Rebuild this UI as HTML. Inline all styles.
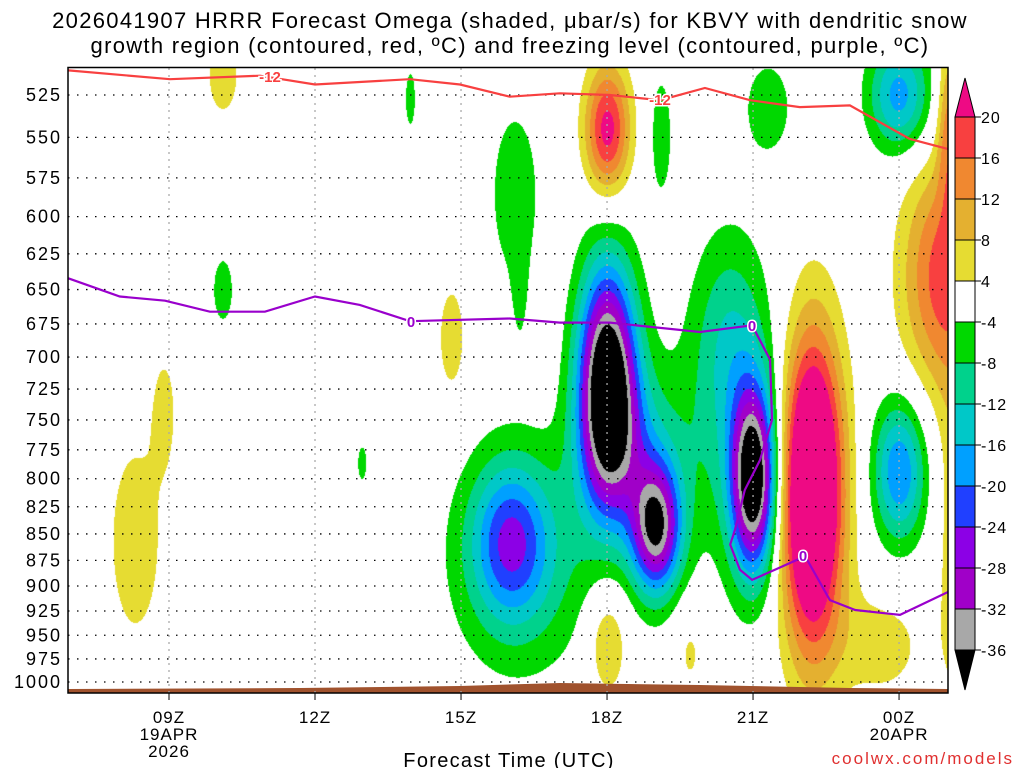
<!DOCTYPE html>
<html><head><meta charset="utf-8">
<style>
body{margin:0;background:#fff;width:1024px;height:768px;overflow:hidden;position:relative;font-family:"Liberation Sans",sans-serif}
#cv{position:absolute;left:68px;top:68px}
#ov{position:absolute;left:0;top:0}
</style></head>
<body>
<canvas id="cv" width="880" height="625"></canvas>
<svg id="ov" width="1024" height="768"></svg>
<script>
// ---- data ----
const pressureTicks=[525,550,575,600,625,650,675,700,725,750,775,800,825,850,875,900,925,950,975,1000];
const timeTickHours=[9,12,15,18,21,24];
const timeTickLabels=["09Z","12Z","15Z","18Z","21Z","00Z"];
const colorbarLevels=[20,16,12,8,4,-4,-8,-12,-16,-20,-24,-28,-32,-36];
const blobT=[18,19,18.5,16,16.3,21,20.6,20.5,16.1,19.1,21.3,24,24,10.1,13.95,12.96,16.2, 22.2,18,24.9,25,25.1,8.3,8.9,10.1,14.8,18,19.7,23.6];
const blobP=[720,845,776,856,875,801,750,680,585,548,532,525,793,650,527,786,650, 810,545,640,540,850,856,740,514,686,955,966,960];
const blobPeak=[-45,-34,-12,-18,-9,-40,-8,-7,-6.5,-6,-7,-18,-20,-6,-6,-5,-4, 40,22,18,12,6,6,5,6,6,9,5,6];
const blobSigT=[0.42,0.36,0.7,0.55,1.1,0.32,0.8,0.5,0.42,0.2,0.37,0.45,0.38,0.2,0.1,0.12,0.12, 0.45,0.33,0.6,0.16,0.25,0.5,0.2,0.3,0.25,0.3,0.25,0.7];
const blobSigLnP=[0.09,0.05,0.066,0.06,0.09,0.07,0.12,0.08,0.08,0.06,0.04,0.044,0.055,0.035,0.03,0.025,0.05, 0.12,0.05,0.09,0.065,0.15,0.1,0.05,0.04,0.055,0.045,0.04,0.045];
const dgzHours=[6.93,9.02,10.87,12.0,13.95,14.98,16.0,17.03,18.06,19.09,20.01,20.94,21.96,22.99,24.22,25.0];
const dgzP=[511,516,514,519,516,519,526,524,525,528,521,528,532,531,551,557];
const frzHours=[6.93,7.99,8.92,9.84,10.97,12.0,12.92,13.95,16.0,17.03,18.06,19.91,20.98,21.35,21.39,21.14,20.83,20.63,20.53,20.73,20.98,21.45,22.07,22.58,23.1,24.02,25.0];
const frzP=[642,655,658,666,666,655,661,673,671,674,674,681,676,702,750,784,810,846,860,884,894,884,871,914,924,929,906];

// ---- axes ----
const X=h=>169+(h-9)*48.67;
const Y=p=>95+911*Math.log(p/525);
const levelColors=["#ee0a84","#f84040","#f08830","#e4b030","#e6dc32","#ffffff","#00d800","#00d28c","#00c8c8","#00a0ff","#2040ff","#8c00e6","#a000c8","#a8a8a8","#000000"];
function colorIdx(v){
  if(v>=20)return 0; if(v>=16)return 1; if(v>=12)return 2; if(v>=8)return 3; if(v>=4)return 4;
  if(v>-4)return 5; if(v>-8)return 6; if(v>-12)return 7; if(v>-16)return 8; if(v>-20)return 9;
  if(v>-24)return 10; if(v>-28)return 11; if(v>-32)return 12; if(v>-36)return 13; return 14;
}
// ---- shading ----
const cv=document.getElementById('cv'),ctx=cv.getContext('2d');
const img=ctx.createImageData(880,625);
const rgb=levelColors.map(c=>[parseInt(c.substr(1,2),16),parseInt(c.substr(3,2),16),parseInt(c.substr(5,2),16)]);
const lnP0=blobP.map(p=>Math.log(p));
for(let j=0;j<625;j++){
  const lnp=Math.log(525)+(68+j-95)/911;
  for(let i=0;i<880;i++){
    const h=9+(68+i-169)/48.67;
    let v=0;
    for(let k=0;k<blobT.length;k++){
      const dt=(h-blobT[k])/blobSigT[k],dl=(lnp-lnP0[k])/blobSigLnP[k];
      const e=dt*dt+dl*dl; if(e<30)v+=blobPeak[k]*Math.exp(-0.5*e);
    }
    const c=rgb[colorIdx(v)],o=(j*880+i)*4;
    img.data[o]=c[0];img.data[o+1]=c[1];img.data[o+2]=c[2];img.data[o+3]=255;
  }
}
ctx.putImageData(img,0,0);

// ---- overlay ----
const NS="http://www.w3.org/2000/svg",svg=document.getElementById('ov');
function mk(tag,at,parent){const e=document.createElementNS(NS,tag);for(const k in at)e.setAttribute(k,at[k]);(parent||svg).appendChild(e);return e;}
const gr=mk('path',{d:"M68,693 L68,689 L300,688 L460,686 L560,683 L700,685 L850,688 L948,689 L948,693 Z",fill:"#a0522d"});


pressureTicks.forEach(p=>{
  const l=mk('line',{x1:68,x2:948,y1:Y(p),y2:Y(p),stroke:"#000","stroke-width":1.3,"stroke-dasharray":"1.5 7.5"});
  
  
  const t=mk('text',{x:62,y:Y(p)+6,"text-anchor":"end","font-size":18,"letter-spacing":"2",fill:"#000"});
  t.textContent=p;
  
  
});
timeTickHours.forEach((h,i)=>{
  const l=mk('line',{x1:X(h),x2:X(h),y1:68,y2:693,stroke:"#aaa","stroke-width":1.3,"stroke-dasharray":"2 5"});
  
  
  mk('line',{x1:X(h),x2:X(h),y1:693,y2:700,stroke:"#000"});
  const t=mk('text',{x:X(h),y:723,"text-anchor":"middle","font-size":17,"letter-spacing":"1"});
  t.textContent=timeTickLabels[i];
  
  
});
[["19APR",740,169],["2026",757,169],["20APR",740,X(24)]].forEach(a=>{
  const t=mk('text',{x:a[2],y:a[1],"text-anchor":"middle","font-size":17,"letter-spacing":"1"});t.textContent=a[0];
  
  
});
function poly(hs,ps,color,name){
  const d=hs.map((h,i)=>(i?'L':'M')+X(h).toFixed(1)+','+Y(ps[i]).toFixed(1)).join(' ');
  const p=mk('path',{d:d,fill:"none",stroke:color,"stroke-width":2.2});
  
  
}
poly(dgzHours,dgzP,"#f84040","dgz-contour-minus12");
poly(frzHours,frzP,"#9900cc","freezing-level-contour-0");
function lab(x,y,txt,col,name){
  const t=mk('text',{x:x,y:y+6,"text-anchor":"middle","font-size":15,"font-weight":"bold",fill:col,stroke:"#fff","stroke-width":3,"paint-order":"stroke"});
  t.textContent=txt;
  
  
}
lab(270,76,"-12","#f84040","contour-label-minus12");
lab(660,99,"-12","#f84040","contour-label-minus12");
lab(411,321,"0","#9900cc","contour-label-0");
lab(752,325,"0","#9900cc","contour-label-0");
lab(803,555,"0","#9900cc","contour-label-0");
const fr=mk('rect',{x:68,y:67.5,width:880,height:625.5,fill:"none",stroke:"#000","stroke-width":1.5});


const cb=mk('g',{});


const cbY=k=>117+41*k;
mk('polygon',{points:`955,117 975,117 965,78`,fill:levelColors[0],stroke:"#000"},cb);
for(let k=0;k<13;k++){
  mk('rect',{x:955,y:cbY(k),width:20,height:41,fill:levelColors[k+1],stroke:"#000"},cb);
}
mk('polygon',{points:`955,${cbY(13)} 975,${cbY(13)} 965,690`,fill:"#000",stroke:"#000"},cb);
colorbarLevels.forEach((v,k)=>{
  mk('line',{x1:975,x2:981,y1:cbY(k),y2:cbY(k),stroke:"#000"},cb);
  const t=mk('text',{x:981,y:cbY(k)+6,"font-size":16,"letter-spacing":"1"},cb);t.textContent=v;
});
[["2026041907 HRRR Forecast Omega (shaded, \u03bcbar/s) for KBVY with dendritic snow",28],["growth region (contoured, red, \u00baC) and freezing level (contoured, purple, \u00baC)",53]].forEach((a,i)=>{
  const t=mk('text',{x:510,y:a[1],"text-anchor":"middle","font-size":22,"letter-spacing":"1.3"});t.textContent=a[0];
  
  
});
const xt=mk('text',{x:509,y:767,"text-anchor":"middle","font-size":20,"letter-spacing":"1.3"});xt.textContent="Forecast Time (UTC)";


const cr=mk('text',{x:1014,y:764,"text-anchor":"end","font-size":17,fill:"#e03030","letter-spacing":"2"});cr.textContent="coolwx.com/models";


</script>
</body></html>
